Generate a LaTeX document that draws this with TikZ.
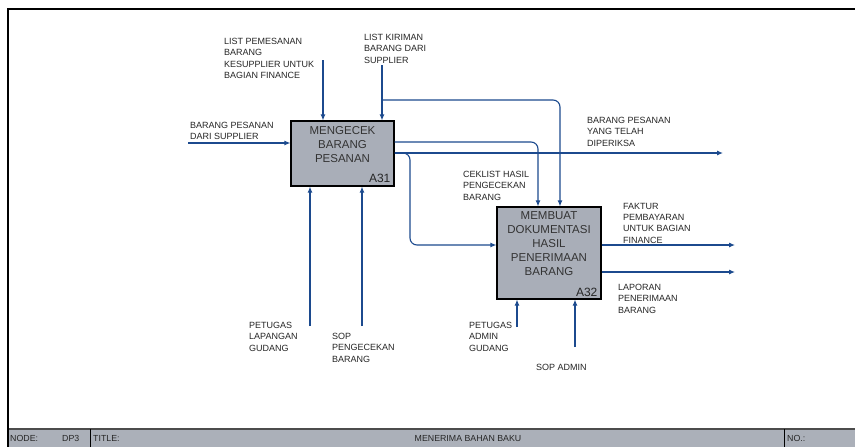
\documentclass[tikz,border=0pt]{standalone}
\usepackage{fontspec}
\setmainfont{Liberation Sans}
\usetikzlibrary{arrows.meta}
\definecolor{arrblue}{HTML}{1C4A8E}
\definecolor{boxgray}{HTML}{A9AEB8}
\definecolor{footgray}{HTML}{ABB0B9}
\begin{document}
\begin{tikzpicture}[x=1pt,y=-1pt,
  lbl/.style={font=\fontsize{9}{11.3}\selectfont, align=left, anchor=north west, inner sep=0pt, text=black!85},
  arr/.style={draw=arrblue, line width=1.1pt, -{Latex[length=6pt,width=5pt]}},
  actbox/.style={draw=black, line width=1.1pt, fill=boxgray, inner sep=0pt},
  acttitle/.style={font=\fontsize{11.5}{14}\selectfont, align=center, inner sep=0pt, text=black!80},
  actnum/.style={font=\fontsize{12}{14}\selectfont, inner sep=0pt, text=black!85},
  foot/.style={font=\fontsize{8.8}{10}\selectfont, inner sep=0pt, anchor=west, text=black!85},
  rc/.style={rounded corners=7pt}]
\path[use as bounding box] (0,0) rectangle (855,447);
\fill[white] (0,0) rectangle (855,447);
% frame and footer
\fill[footgray] (8,429) rectangle (855,447);
\draw[line width=1.2pt, black!70] (8,429) -- (855,429);
\draw[line width=1.2pt] (7,9) -- (855,9);
\draw[line width=1.2pt] (8,9) -- (8,447);
\draw[line width=0.9pt] (90,429) -- (90,447);
\draw[line width=0.9pt] (784,429) -- (784,447);
\node[foot] (fnode) at (10,438.5) {NODE:};
\node[foot] (fdp) at (62,438.5) {DP3};
\node[foot] (ftitle) at (93,438.5) {TITLE:};
\node[foot, anchor=center] (fname) at (468,438.5) {MENERIMA BAHAN BAKU};
\node[foot] (fno) at (787,438.5) {NO.:};
% activity boxes
\node[actbox, minimum width=103pt, minimum height=65pt] (A31) at (342.5,153.5) {};
\node[acttitle, anchor=north] (A31t) at ([yshift=-6pt]A31.north) {MENGECEK\\BARANG\\PESANAN};
\node[actnum, anchor=south east] (A31n) at ([xshift=-4pt,yshift=4pt]A31.south east) {A31};
\node[actbox, minimum width=104pt, minimum height=92pt] (A32) at (549,253) {};
\node[acttitle, anchor=north] (A32t) at ([yshift=-5pt]A32.north) {MEMBUAT\\DOKUMENTASI\\HASIL\\PENERIMAAN\\BARANG};
\node[actnum, anchor=south east] (A32n) at ([xshift=-4pt,yshift=3pt]A32.south east) {A32};
% coordinates
\coordinate (c1) at (323,60);
\coordinate (c2) at (382,65);
\coordinate (c2b) at (382,100);
\coordinate (k2) at (560,100);
\coordinate (i1) at (188,143);
\coordinate (o1k) at (538,142);
\coordinate (o2) at (723,153);
\coordinate (b1) at (410,153);
\coordinate (b2) at (410,245);
\coordinate (m1) at (310,326);
\coordinate (m2) at (362,326);
\coordinate (m3) at (517,327);
\coordinate (m4) at (575,347);
\coordinate (o3) at (735,245);
\coordinate (o4) at (735,272);
% connectors
\draw[arr] (c1) -- (c1 |- A31.north);
\draw[arr] (c2) -- (c2 |- A31.north);
\draw[arr, rc] (c2b) -- (k2) -- (k2 |- A32.north);
\draw[arr] (i1) -- (i1 -| A31.west);
\draw[arr, rc] (A31.east |- o1k) -- (o1k) -- (o1k |- A32.north);
\draw[arr] (A31.east |- o2) -- (o2);
\draw[arr, rc] (A31.east |- b1) -- (b1) -- (b2) -- (b2 -| A32.west);
\draw[arr] (m1) -- (m1 |- A31.south);
\draw[arr] (m2) -- (m2 |- A31.south);
\draw[arr] (m3) -- (m3 |- A32.south);
\draw[arr] (m4) -- (m4 |- A32.south);
\draw[arr] (A32.east |- o3) -- (o3);
\draw[arr] (A32.east |- o4) -- (o4);
% labels
\node[lbl] (l1) at (224,38) {LIST PEMESANAN\\BARANG\\KESUPPLIER UNTUK\\BAGIAN FINANCE};
\node[lbl] (l2) at (364,34) {LIST KIRIMAN\\BARANG DARI\\SUPPLIER};
\node[lbl] (l3) at (190,122) {BARANG PESANAN\\DARI SUPPLIER};
\node[lbl] (l4) at (587,117) {BARANG PESANAN\\YANG TELAH\\DIPERIKSA};
\node[lbl] (l5) at (463,171) {CEKLIST HASIL\\PENGECEKAN\\BARANG};
\node[lbl] (l6) at (623,203) {FAKTUR\\PEMBAYARAN\\UNTUK BAGIAN\\FINANCE};
\node[lbl] (l7) at (618,284) {LAPORAN\\PENERIMAAN\\BARANG};
\node[lbl] (l8) at (249,322) {PETUGAS\\LAPANGAN\\GUDANG};
\node[lbl] (l9) at (332,333) {SOP\\PENGECEKAN\\BARANG};
\node[lbl] (l10) at (469,322) {PETUGAS\\ADMIN\\GUDANG};
\node[lbl] (l11) at (536,364) {SOP ADMIN};
\end{tikzpicture}
\end{document}
